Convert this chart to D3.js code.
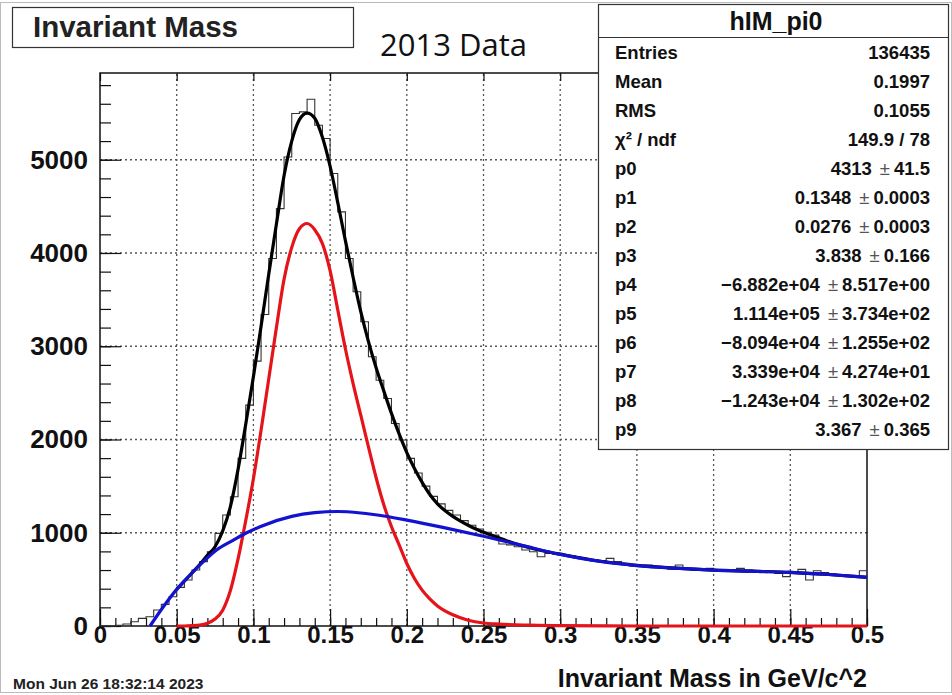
<!DOCTYPE html>
<html>
<head>
<meta charset="utf-8">
<title>Invariant Mass</title>
<script src="https://d3js.org/d3.v7.min.js"></script>
<style>
  body { margin: 0; background: #fff; }
  svg { display: block; font-family: "Liberation Sans", Arial, sans-serif; }
</style>
</head>
<body>
<svg width="952" height="695"></svg>
<script>
// histogram hIM_pi0: 100 bins from 0 to 0.5, counts
const xRange = [0, 0.5];
const counts = [
  0, 0, 8, 21, 46, 82, 100, 171, 232, 314,
  414, 493, 600, 690, 797, 993, 1190, 1386, 1797, 2369,
  2840, 3340, 3941, 4476, 5030, 5495, 5513, 5648, 5370, 5227,
  4852, 4441, 3941, 3584, 3262, 2887, 2636, 2440, 2172, 1994,
  1797, 1640, 1500, 1390, 1310, 1240, 1190, 1130, 1080, 1040,
  1005, 975, 880, 870, 850, 815, 797, 743, 779, 772,
  761, 750, 725, 715, 707, 700, 725, 690, 672, 643,
  640, 654, 629, 618, 610, 654, 607, 600, 607, 618,
  600, 593, 593, 618, 600, 582, 572, 579, 564, 529,
  582, 607, 493, 593, 572, 557, 547, 536, 529, 593
];

// fitted curves, points [x, value]
const totalFit = [
  [0.05, 393], [0.055, 480], [0.06, 570], [0.065, 660], [0.07, 758], [0.075, 850],
  [0.08, 1020], [0.085, 1280], [0.09, 1680], [0.095, 2163], [0.1, 2673], [0.105, 3214],
  [0.11, 3771], [0.115, 4310], [0.12, 4830], [0.125, 5200], [0.13, 5430], [0.135, 5500],
  [0.14, 5445], [0.145, 5240], [0.15, 4930], [0.155, 4540], [0.16, 4130], [0.165, 3740],
  [0.17, 3370], [0.175, 3050], [0.18, 2770], [0.185, 2520], [0.19, 2280], [0.195, 2060],
  [0.2, 1860], [0.205, 1690], [0.21, 1540], [0.215, 1410], [0.22, 1310], [0.225, 1235],
  [0.23, 1175], [0.235, 1125], [0.24, 1080], [0.245, 1040], [0.25, 1005], [0.255, 975],
  [0.26, 945], [0.265, 915], [0.27, 887], [0.28, 840], [0.29, 802], [0.3, 770],
  [0.325, 697], [0.35, 650], [0.375, 620], [0.4, 600], [0.425, 588], [0.45, 575],
  [0.475, 552], [0.5, 522]
];
const signalFit = [
  [0.05, 0], [0.055, 0], [0.06, 3], [0.065, 10], [0.07, 30], [0.075, 75], [0.08, 170],
  [0.085, 380], [0.09, 720], [0.095, 1130], [0.1, 1580], [0.105, 2100], [0.11, 2650],
  [0.115, 3200], [0.12, 3720], [0.125, 4060], [0.13, 4260], [0.135, 4316], [0.14, 4250],
  [0.145, 4100], [0.15, 3810], [0.155, 3390], [0.16, 2970], [0.165, 2600], [0.17, 2260],
  [0.175, 1920], [0.18, 1590], [0.185, 1300], [0.19, 1065], [0.195, 870], [0.2, 670],
  [0.205, 510], [0.21, 385], [0.215, 290], [0.22, 215], [0.23, 120], [0.24, 62],
  [0.25, 32], [0.26, 20], [0.28, 9], [0.3, 3], [0.35, 0], [0.4, 0], [0.5, 0]
];
const backgroundFit = [
  [0.0326, 0], [0.0413, 207], [0.05, 393], [0.0587, 547], [0.0674, 690], [0.076, 815],
  [0.0869, 920], [0.0956, 1000], [0.1043, 1065], [0.125, 1175], [0.14, 1215],
  [0.155, 1228], [0.17, 1212], [0.185, 1180], [0.2, 1136], [0.225, 1052],
  [0.25, 962], [0.275, 865], [0.3, 768], [0.325, 695], [0.35, 648], [0.375, 620],
  [0.4, 600], [0.425, 588], [0.45, 575], [0.475, 552], [0.5, 522]
];

const xMajor = [0, 0.05, 0.1, 0.15, 0.2, 0.25, 0.3, 0.35, 0.4, 0.45, 0.5];
const xMinor = d3.range(0, 51).map(d => d / 100);
const yMajor = [0, 1000, 2000, 3000, 4000, 5000];
const yMinor = d3.range(0, 5801, 200);

const statNames = ["Entries", "Mean", "RMS", "χ² / ndf", "p0", "p1", "p2", "p3", "p4", "p5", "p6", "p7", "p8", "p9"];
const statValues = ["136435", "0.1997", "0.1055", "149.9 / 78", "4313", "0.1348", "0.0276", "3.838",
  "−6.882e+04", "1.114e+05", "−8.094e+04", "3.339e+04", "−1.243e+04", "3.367"];
const statErrors = ["", "", "", "", "41.5", "0.0003", "0.0003", "0.166",
  "8.517e+00", "3.734e+02", "1.255e+02", "4.274e+01", "1.302e+02", "0.365"];

const svg = d3.select("svg");
const xScale = d3.scaleLinear().domain(xRange).range([100, 867]);
const yScale = d3.scaleLinear().domain([0, 5930]).range([626, 73]);

// canvas border
svg.append("rect").attr("x", 0.5).attr("y", 2.5).attr("width", 951).attr("height", 690)
  .attr("fill", "#fff").attr("stroke", "#bbb");

// grid
svg.append("g").selectAll("line").data(xMajor.slice(1, -1)).enter().append("line")
  .attr("x1", d => xScale(d)).attr("x2", d => xScale(d))
  .attr("y1", yScale.range()[0]).attr("y2", yScale.range()[1])
  .attr("stroke", "#555").attr("stroke-width", 1.3).attr("stroke-dasharray", "2,3");
svg.append("g").selectAll("line").data(yMajor.slice(1)).enter().append("line")
  .attr("x1", 100).attr("x2", 867)
  .attr("y1", d => yScale(d)).attr("y2", d => yScale(d))
  .attr("stroke", "#555").attr("stroke-width", 1.3).attr("stroke-dasharray", "2,3");

// axes, ticks point into the frame
const fmtX = d => d === 0 ? "0" : d3.format("~g")(d);
svg.append("g").attr("transform", "translate(0,626)")
  .call(d3.axisBottom(xScale).tickValues(xMinor).tickSize(-8).tickFormat(""));
svg.append("g").attr("class", "xmaj").attr("transform", "translate(0,626)")
  .call(d3.axisBottom(xScale).tickValues(xMajor).tickSize(-17).tickPadding(4).tickFormat(fmtX));
svg.append("g").attr("transform", "translate(0,73)")
  .call(d3.axisBottom(xScale).tickValues(xMajor).tickSize(8).tickFormat(""));
svg.append("g").attr("transform", "translate(100,0)")
  .call(d3.axisLeft(yScale).tickValues(yMinor).tickSize(-11).tickFormat(""));
svg.append("g").attr("class", "ymaj").attr("transform", "translate(100,0)")
  .call(d3.axisLeft(yScale).tickValues(yMajor).tickSize(-21).tickPadding(12).tickFormat(d3.format("d")));
svg.selectAll(".domain").remove();
svg.selectAll(".tick line").attr("stroke", "#111").attr("stroke-width", 1.2);
svg.selectAll(".xmaj text").attr("font-size", 24).attr("font-weight", "bold").attr("fill", "#111")
  .attr("dy", "0.55em");
svg.selectAll(".ymaj text").attr("font-size", 26).attr("font-weight", "bold").attr("fill", "#111");

// frame
svg.append("rect").attr("x", 100).attr("y", 73).attr("width", 767).attr("height", 553)
  .attr("fill", "none").attr("stroke", "#111").attr("stroke-width", 1.5);

// histogram steps
const binW = (xRange[1] - xRange[0]) / counts.length;
const steps = counts.map((c, i) => [xRange[0] + i * binW, c]);
steps.push([xRange[1], counts[counts.length - 1]]);
svg.append("path")
  .attr("d", d3.line().x(d => xScale(d[0])).y(d => yScale(d[1])).curve(d3.curveStepAfter)(steps))
  .attr("fill", "none").attr("stroke", "#333").attr("stroke-width", 1.1);

// fits
const fitLine = d3.line().x(d => xScale(d[0])).y(d => yScale(d[1])).curve(d3.curveMonotoneX);
svg.append("path").attr("d", fitLine(totalFit))
  .attr("fill", "none").attr("stroke", "#000").attr("stroke-width", 3.2);
svg.append("path").attr("d", fitLine(signalFit))
  .attr("fill", "none").attr("stroke", "#e5141a").attr("stroke-width", 3.2);
svg.append("path").attr("d", fitLine(backgroundFit))
  .attr("fill", "none").attr("stroke", "#1212d0").attr("stroke-width", 3.2);

// title box
svg.append("rect").attr("x", 12.5).attr("y", 7.5).attr("width", 341).attr("height", 40)
  .attr("fill", "#fff").attr("stroke", "#333").attr("stroke-width", 1.2);
svg.append("text").attr("x", 33).attr("y", 37).attr("font-size", 29.5).attr("font-weight", "bold")
  .attr("fill", "#222").text("Invariant Mass");

svg.append("text").attr("x", 380).attr("y", 56).attr("font-size", 31)
  .attr("font-family", "'Open Sans', sans-serif").attr("fill", "#111").text("2013 Data");

// stats box
const stats = svg.append("g");
stats.append("rect").attr("x", 598.5).attr("y", 4.5).attr("width", 350).attr("height", 445)
  .attr("fill", "#fff").attr("stroke", "#333").attr("stroke-width", 1.2);
stats.append("line").attr("x1", 598.5).attr("x2", 948.5).attr("y1", 37.5).attr("y2", 37.5)
  .attr("stroke", "#333").attr("stroke-width", 1.2);
stats.append("text").attr("x", 776).attr("y", 30).attr("text-anchor", "middle")
  .attr("font-size", 25).attr("font-weight", "bold").attr("fill", "#111").text("hIM_pi0");
statNames.forEach((name, i) => {
  const yy = 59 + i * 29;
  stats.append("text").attr("x", 615).attr("y", yy).attr("font-size", 18.5)
    .attr("font-weight", "bold").attr("fill", "#111").text(name);
  const t = stats.append("text").attr("x", 930).attr("y", yy).attr("text-anchor", "end")
    .attr("font-size", 18.5).attr("font-weight", "bold").attr("fill", "#111");
  t.append("tspan").text(statValues[i]);
  if (statErrors[i]) {
    t.append("tspan").attr("dx", 8).attr("font-weight", "normal").attr("fill", "#555").text("±");
    t.append("tspan").attr("dx", 4).text(statErrors[i]);
  }
});

// axis title and date
svg.append("text").attr("x", 867).attr("y", 687).attr("text-anchor", "end")
  .attr("font-size", 25).attr("font-weight", "bold").attr("fill", "#111")
  .text("Invariant Mass in GeV/c^2");
svg.append("text").attr("x", 13).attr("y", 689).attr("font-size", 15.5)
  .attr("font-weight", "bold").attr("fill", "#222").text("Mon Jun 26 18:32:14 2023");
</script>
</body>
</html>
